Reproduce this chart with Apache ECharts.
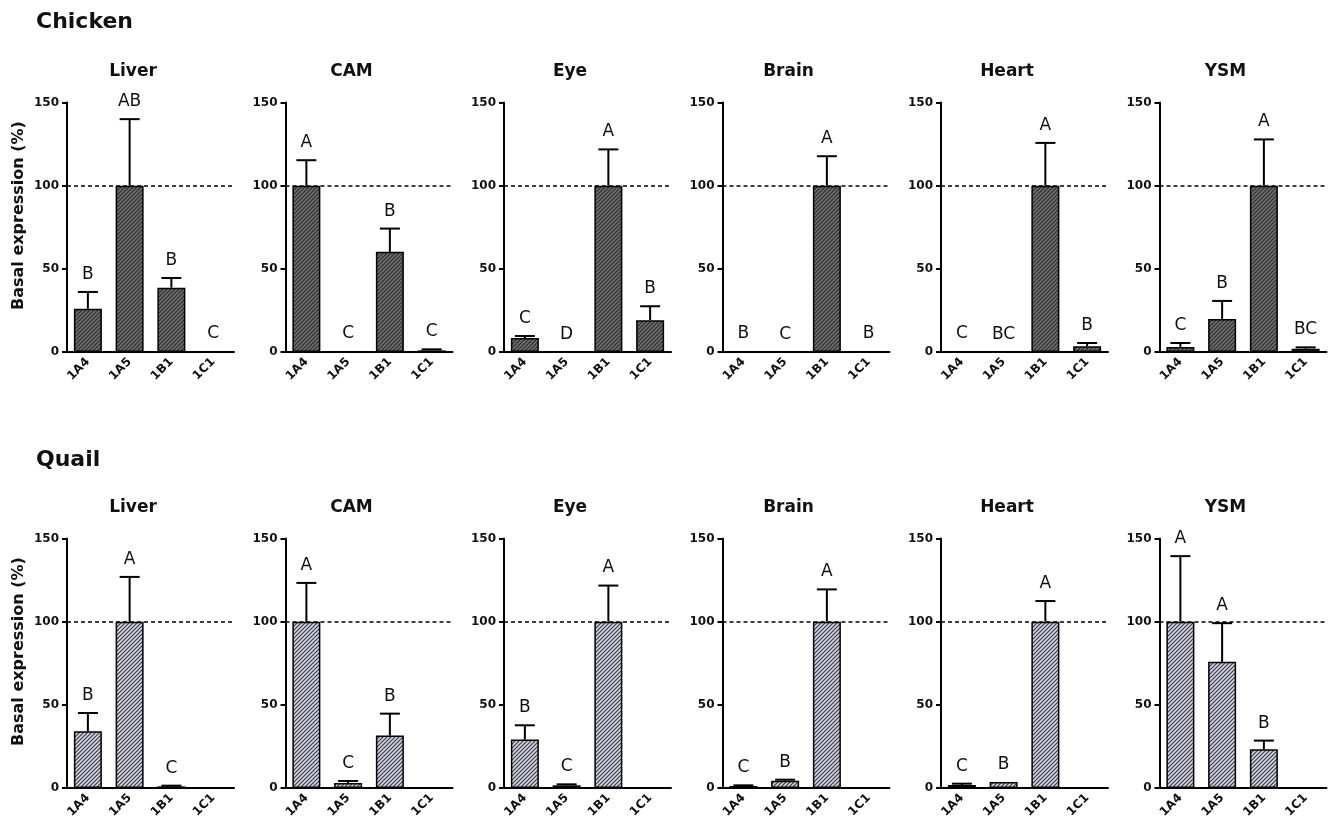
<!DOCTYPE html>
<html>
<head>
<meta charset="utf-8">
<title>Basal expression</title>
<script src="https://cdn.jsdelivr.net/npm/echarts@6.0.0/dist/echarts.min.js"></script>
<style>
  html, body { margin: 0; padding: 0; background: #fff; }
  #main { width: 1332px; height: 828px; }
</style>
</head>
<body>
<div id="main"></div>
<script>
// categories
const genes = ['1A4', '1A5', '1B1', '1C1'];
const tissues = ['Liver', 'CAM', 'Eye', 'Brain', 'Heart', 'YSM'];
const species = ['Chicken', 'Quail'];

// chicken: mean, upper end of error bar, letters  (rows = tissues)
const chickenMean = [
  [26, 100, 38.7, 0.4],   // Liver
  [100, 0.4, 60.2, 1.0],  // CAM
  [8.4, 0, 100, 19.1],    // Eye
  [0.4, 0, 100, 0.4],     // Brain
  [0.3, 0, 100, 3.4],     // Heart
  [3.0, 19.9, 100, 2.0]   // YSM
];
const chickenUpper = [
  [36.1, 140, 44.5, 0.6],
  [115.3, 0.5, 74.2, 1.6],
  [9.6, 0, 121.8, 27.5],
  [0.5, 0, 117.7, 0.5],
  [0.4, 0, 125.7, 5.4],
  [5.4, 30.7, 127.8, 2.8]
];
const chickenLetters = [
  ['B', 'AB', 'B', 'C'],
  ['A', 'C', 'B', 'C'],
  ['C', 'D', 'A', 'B'],
  ['B', 'C', 'A', 'B'],
  ['C', 'BC', 'A', 'B'],
  ['C', 'B', 'A', 'BC']
];

// quail
const quailMean = [
  [34.1, 100, 1.0, 0],
  [100, 3.0, 31.5, 0],
  [29.1, 1.6, 100, 0],
  [1.2, 4.4, 100, 0],
  [1.8, 3.6, 100, 0],
  [100, 75.9, 23.3, 0]
];
const quailUpper = [
  [45.1, 126.9, 1.4, 0],
  [123.3, 4.2, 44.7, 0],
  [37.7, 2.2, 121.7, 0],
  [1.6, 5.0, 119.4, 0],
  [2.6, 3.8, 112.4, 0],
  [139.4, 99.1, 28.5, 0]
];
const quailLetters = [
  ['B', 'A', 'C', ''],
  ['A', 'C', 'B', ''],
  ['B', 'C', 'A', ''],
  ['C', 'B', 'A', ''],
  ['C', 'B', 'A', ''],
  ['A', 'A', 'B', '']
];

const yTicks = [0, 50, 100, 150];
const refLine = 100;
const yName = 'Basal expression (%)';

const FONT = '"DejaVu Sans", sans-serif';

// diagonal hatching used as bar fill
function hatch(bg, line, w) {
  const c = document.createElement('canvas');
  c.width = 4;
  c.height = 4;
  const ctx = c.getContext('2d');
  ctx.fillStyle = bg;
  ctx.fillRect(0, 0, 4, 4);
  ctx.strokeStyle = line;
  ctx.lineWidth = w;
  ctx.beginPath();
  ctx.moveTo(0, 4); ctx.lineTo(4, 0);
  ctx.moveTo(-1, 1); ctx.lineTo(1, -1);
  ctx.moveTo(3, 5); ctx.lineTo(5, 3);
  ctx.stroke();
  return {image: c, repeat: 'repeat'};
}

const fills = [hatch('#6c6c6c', '#303030', 1.1), hatch('#d2d2de', '#3e3e4e', 1.2)];
const means = [chickenMean, quailMean];
const uppers = [chickenUpper, quailUpper];
const letters = [chickenLetters, quailLetters];

const rowTop = [102.5, 538.5];
const plotH = 249.5;
const colLeft0 = 67;
const colStep = 218.5;
const plotW = 167;

let grids = [], xAxes = [], yAxes = [], series = [], graphics = [];

species.forEach((sp, r) => {
  graphics.push({
    type: 'text', left: 36, top: rowTop[r] - 91 + r * 2,
    style: {text: sp, font: 'bold 22px ' + FONT, fill: '#111'}
  });
  graphics.push({
    type: 'text', x: 19, y: rowTop[r] + 113, rotation: Math.PI / 2,
    style: {text: yName, font: 'bold 16px ' + FONT, fill: '#111', textAlign: 'center', textVerticalAlign: 'middle'}
  });
  tissues.forEach((t, c) => {
    const idx = r * 6 + c;
    const left = colLeft0 + c * colStep;
    grids.push({left: left, top: rowTop[r], width: plotW, height: plotH});
    graphics.push({
      type: 'text', x: left + 66, y: rowTop[r] - 31,
      style: {text: t, font: 'bold 17px ' + FONT, fill: '#111', textAlign: 'center', textVerticalAlign: 'middle'}
    });
    xAxes.push({
      gridIndex: idx, type: 'category', data: genes,
      axisLine: {lineStyle: {color: '#000', width: 2}},
      axisTick: {alignWithLabel: true, length: 5, lineStyle: {color: '#000', width: 2}},
      axisLabel: {rotate: 45, margin: 8, color: '#111', fontFamily: FONT, fontWeight: 'bold', fontSize: 12}
    });
    yAxes.push({
      gridIndex: idx, type: 'value', min: yTicks[0], max: yTicks[yTicks.length - 1], interval: 50,
      axisLine: {show: true, lineStyle: {color: '#000', width: 2}},
      axisTick: {show: true, length: 5, lineStyle: {color: '#000', width: 2}},
      axisLabel: {margin: 8, color: '#111', fontFamily: FONT, fontWeight: 'bold', fontSize: 12},
      splitLine: {show: false}
    });

    series.push({
      type: 'bar', xAxisIndex: idx, yAxisIndex: idx,
      data: means[r][c], barWidth: 28,
      itemStyle: {color: fills[r], borderColor: '#000', borderWidth: 1.5},
      markLine: {
        silent: true, symbol: ['none', 'none'],
        data: [{yAxis: refLine}],
        lineStyle: {type: [4, 3], color: '#000', width: 1.5},
        label: {show: false}
      }
    });

    const lab = letters[r][c];
    series.push({
      type: 'custom', xAxisIndex: idx, yAxisIndex: idx, z: 5,
      data: genes.map((g, i) => [i, means[r][c][i], uppers[r][c][i]]),
      encode: {x: 0, y: 2},
      renderItem: function (params, api) {
        const i = api.value(0);
        const lo = api.coord([i, api.value(1)]);
        const hi = api.coord([i, api.value(2)]);
        const kids = [];
        if (api.value(2) - api.value(1) > 0.3) {
          kids.push({type: 'line', shape: {x1: lo[0], y1: lo[1], x2: hi[0], y2: hi[1]},
            style: {stroke: '#000', lineWidth: 2}});
          kids.push({type: 'line', shape: {x1: hi[0] - 10, y1: hi[1], x2: hi[0] + 10, y2: hi[1]},
            style: {stroke: '#000', lineWidth: 2}});
        }
        kids.push({type: 'text', style: {
          text: lab[params.dataIndex], x: hi[0], y: hi[1] - 9,
          textAlign: 'center', textVerticalAlign: 'bottom',
          font: '17px ' + FONT, fill: '#111'
        }});
        return {type: 'group', children: kids};
      }
    });
  });
});

const chart = echarts.init(document.getElementById('main'));
chart.setOption({
  backgroundColor: '#fff',
  animation: false,
  grid: grids,
  xAxis: xAxes,
  yAxis: yAxes,
  series: series,
  graphic: graphics
});
</script>
</body>
</html>
